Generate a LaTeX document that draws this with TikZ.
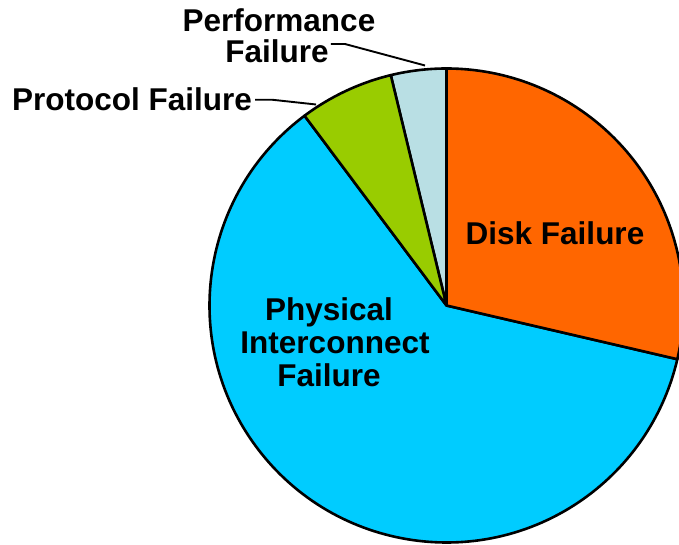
\documentclass[tikz,border=0pt]{standalone}
\usepackage{fontspec}
\setmainfont{Liberation Sans}
\definecolor{diskc}{HTML}{FF6600}
\definecolor{perfc}{HTML}{B9DFE4}
\definecolor{protc}{HTML}{99CC00}
\definecolor{physc}{HTML}{00CCFF}
\begin{document}
\begin{tikzpicture}[x=1pt,y=1pt,
  slice/.style={draw=black, line width=2.6pt, line join=round},
  lbl/.style={font=\fontsize{31.5}{33}\selectfont\bfseries, inner sep=0pt, anchor=base},
  leader/.style={draw=black, line width=1.9pt}]
\useasboundingbox (0,0) rectangle (679,545);
\clip (0,0) rectangle (679,545);
% pie slices, centre and radius
\begin{scope}[shift={(446.5,239.5)}]
  \filldraw[slice, fill=physc] (0,0) -- (126.8:237) arc[start angle=126.8, end angle=346.9, radius=237] -- cycle;
  \filldraw[slice, fill=diskc] (0,0) -- (-13.1:237) arc[start angle=-13.1, end angle=90, radius=237] -- cycle;
  \filldraw[slice, fill=perfc] (0,0) -- (90:237) arc[start angle=90, end angle=103.6, radius=237] -- cycle;
  \filldraw[slice, fill=protc] (0,0) -- (103.6:237) arc[start angle=103.6, end angle=126.8, radius=237] -- cycle;
  \coordinate (perfend) at (-21.5,240);
  \coordinate (protend) at (-130.5,201);
\end{scope}
% labels
\node[lbl] (perfA) at (279,513) {Performance};
\node[lbl] (perfB) at (277,482) {Failure};
\node[lbl] (prot) at (132,434) {Protocol Failure};
\node[lbl] (disk) at (555,300) {Disk Failure};
\node[lbl] (physA) at (329,224) {Physical};
\node[lbl] (physB) at (335,191) {Interconnect};
\node[lbl] (physC) at (329,158) {Failure};
% leader lines
\draw[leader] ([shift={(2,-4)}]perfB.north east) -- ++(14,0) -- (perfend);
\draw[leader] ([xshift=3]prot.east) -- ++(17,0) -- (protend);
\end{tikzpicture}
\end{document}
